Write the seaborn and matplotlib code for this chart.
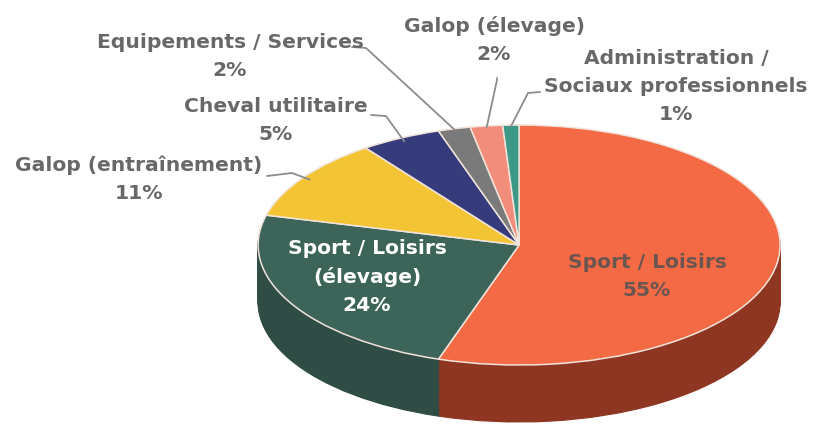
import numpy as np
import matplotlib
matplotlib.use('Agg')
import matplotlib.pyplot as plt
from matplotlib.lines import Line2D
import seaborn as sns

# data
categories = ['Sport / Loisirs', 'Sport / Loisirs (élevage)', 'Galop (entraînement)',
              'Cheval utilitaire', 'Equipements / Services', 'Galop (élevage)',
              'Administration / Sociaux professionnels']
shares = [55, 24, 11, 5, 2, 2, 1]
label_texts = ['Sport / Loisirs', 'Sport / Loisirs\n(élevage)', 'Galop (entraînement)',
               'Cheval utilitaire', 'Equipements / Services', 'Galop (élevage)',
               'Administration /\nSociaux professionnels']

top_colors = ['#F36A45', '#3C6459', '#F3C535', '#363C7B', '#7A7A7A', '#F28C7B', '#3D9986']
side_colors = ['#8E3622', '#2F4D45', '#B8921F', '#23285A', '#555555', '#B8655A', '#2A6E60']

sns.set_theme(style='white')
plt.rcParams['font.family'] = ['DejaVu Sans']

W, H = 814, 428
fig = plt.figure(figsize=(W / 100, H / 100), dpi=100)
ax = fig.add_axes([0, 0, 1, 1])


def px(x, y):
    # pixel position (from top-left) -> figure fraction
    return x / W, 1 - y / H


# side wall: stacked copies of the pie shifted downward
depth = 0.475
n_layers = 45
for k in range(n_layers, 0, -1):
    layer, _ = ax.pie(shares, colors=side_colors, startangle=90, counterclock=False,
                      center=(0, -depth * k / n_layers),
                      wedgeprops=dict(linewidth=0.8))
    for w in layer:
        w.set_edgecolor(w.get_facecolor())

wedges, _ = ax.pie(shares, colors=top_colors, startangle=90, counterclock=False,
                   wedgeprops=dict(linewidth=1.1, edgecolor='#F1E3DA'))

ax.set_aspect('auto')
ax.set_xlim(-1.989, 1.130)
ax.set_ylim(-1.525, 2.042)
ax.axis('off')

txt_gray = '#686868'
fs = 14.6

lbl = dict(ha='center', va='center', fontsize=fs, fontweight='bold', linespacing=1.6)
# labels inside the pie
fig.text(*px(647, 276), f'{label_texts[0]}\n{shares[0]}%', color='#6A5550', **lbl)
fig.text(*px(367, 277), f'{label_texts[1]}\n{shares[1]}%', color='white', **lbl)

# outside labels: (index, text centre, leader start, leader elbow)
outside = [
    (2, (139, 179), (267, 176), (292, 173)),
    (3, (276, 121), (371, 115), (386, 116)),
    (4, (230, 56), (352, 47), (366, 48)),
    (5, (494, 40), (497, 78), (497, 80)),
    (6, (676, 86), (540, 92), (528, 93)),
]

fig.canvas.draw()
for i, centre, start, elbow in outside:
    fig.text(*px(*centre), f'{label_texts[i]}\n{shares[i]}%', color=txt_gray, **lbl)
    w = wedges[i]
    mid = np.deg2rad((w.theta1 + w.theta2) / 2)
    r = 0.97 if i < 4 else 0.99
    ex, ey = ax.transData.transform((r * np.cos(mid), r * np.sin(mid)))
    xs = [start[0] / W, elbow[0] / W, ex / W]
    ys = [1 - start[1] / H, 1 - elbow[1] / H, ey / H]
    fig.add_artist(Line2D(xs, ys, transform=fig.transFigure, color='#8C8C8C', lw=1.3))

fig.savefig('out.png', dpi=100, facecolor='white')
